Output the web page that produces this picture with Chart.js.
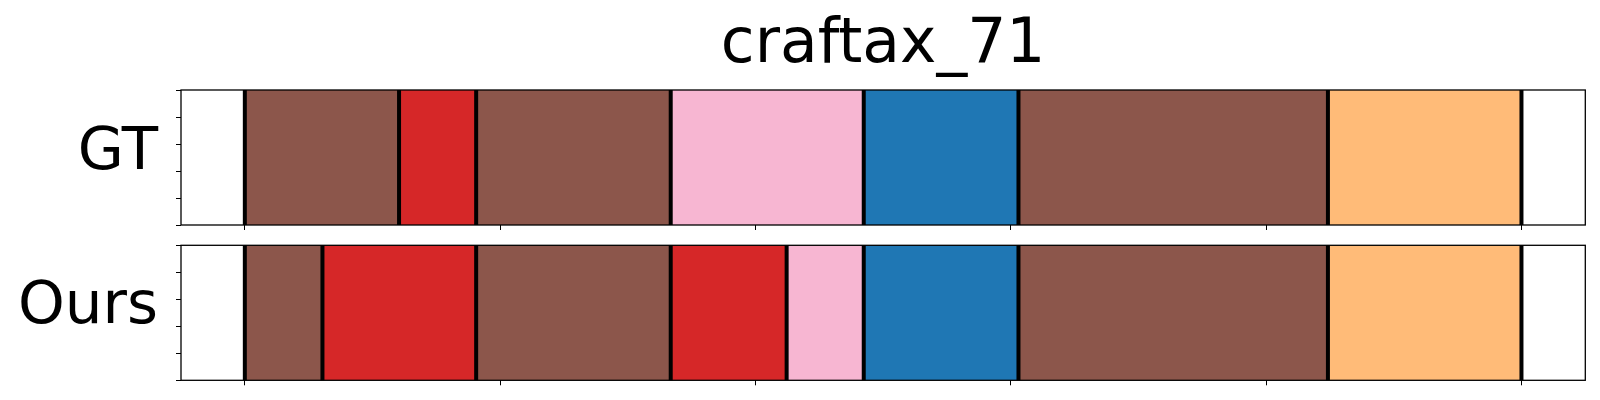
<!DOCTYPE html>
<html>
<head>
<meta charset="utf-8">
<script src="https://cdn.jsdelivr.net/npm/chart.js@4.4.1/dist/chart.umd.min.js"></script>
<style>
  html, body { margin: 0; padding: 0; background: #fff; }
  #wrap { position: relative; width: 1600px; height: 400px; }
  canvas { position: absolute; left: 0; }
  #c1 { top: 0; }
  #c2 { top: 235px; }
</style>
</head>
<body>
<div id="wrap">
  <canvas id="c1" width="1600" height="235"></canvas>
  <canvas id="c2" width="1600" height="165"></canvas>
</div>
<script>
// ---- data ----
const titleText = 'craftax_71';
const rowLabels = ['GT', 'Ours'];
const gtBounds = [0, 30.2, 45.3, 83.4, 121.2, 151.5, 212.1, 250];
const gtClasses = ['brown', 'red', 'brown', 'pink', 'blue', 'brown', 'orange'];
const oursBounds = [0, 15.2, 45.3, 83.4, 106.1, 121.2, 151.5, 212.1, 250];
const oursClasses = ['brown', 'red', 'brown', 'red', 'pink', 'blue', 'brown', 'orange'];
const xTickValues = [0, 50, 100, 150, 200, 250];
const yTickValues = [0, 0.25, 0.5, 0.75, 1];
const xMin = -12.5;
const xMax = 262.5;

// ---- styles ----
const palette = {
  brown: '#8c564b',
  red: '#d62728',
  pink: '#f7b6d2',
  blue: '#1f77b4',
  orange: '#ffbb78'
};
const FONT = 'DejaVu Sans';

const segPlugin = {
  id: 'segLines',
  afterDatasetsDraw(chart, args, opts) {
    const { ctx, chartArea } = chart;
    const xs = chart.scales.x;
    ctx.save();
    ctx.strokeStyle = '#000';
    ctx.lineWidth = opts.width;
    (opts.bounds || []).forEach(b => {
      const px = xs.getPixelForValue(b);
      ctx.beginPath();
      ctx.moveTo(px, chartArea.top);
      ctx.lineTo(px, chartArea.bottom);
      ctx.stroke();
    });
    ctx.restore();
  },
  afterDraw(chart) {
    const { ctx, chartArea } = chart;
    ctx.save();
    ctx.strokeStyle = '#000';
    ctx.lineWidth = 1.3;
    ctx.strokeRect(chartArea.left, chartArea.top, chartArea.right - chartArea.left, chartArea.bottom - chartArea.top);
    ctx.restore();
  }
};

function makePanel(canvasId, label, bounds, classes, withTitle, padding, labelOffset) {
  const segs = classes.map((c, i) => ({ x: [bounds[i], bounds[i + 1]], y: label }));
  return new Chart(document.getElementById(canvasId), {
    type: 'bar',
    data: {
      labels: [label],
      datasets: [{
        data: segs,
        backgroundColor: classes.map(c => palette[c]),
        borderWidth: 0,
        barPercentage: 1,
        categoryPercentage: 1,
        grouped: false
      }]
    },
    plugins: [segPlugin],
    options: {
      indexAxis: 'y',
      responsive: false,
      maintainAspectRatio: false,
      animation: false,
      layout: { padding: padding },
      plugins: {
        legend: { display: false },
        tooltip: { enabled: false },
        title: {
          display: withTitle,
          text: titleText,
          fullSize: false,
          color: '#000',
          font: { family: FONT, size: 61.5, weight: 'normal', lineHeight: 1.2 },
          padding: { top: 9, bottom: 7.2 }
        },
        segLines: { bounds: bounds, width: 4 }
      },
      scales: {
        x: {
          type: 'linear',
          position: 'bottom',
          min: xMin,
          max: xMax,
          afterBuildTicks: s => { s.ticks = xTickValues.map(v => ({ value: v })); },
          ticks: { display: false },
          grid: { display: true, drawOnChartArea: false, drawTicks: true, tickLength: 5, color: '#000', lineWidth: 1 },
          border: { display: false }
        },
        y: {
          type: 'category',
          position: 'left',
          weight: 1,
          offset: true,
          afterFit: s => { s.width = 176; s.paddingTop = 0; s.paddingBottom = 0; },
          ticks: { color: '#000', font: { family: FONT, size: 59.5 }, padding: 18, labelOffset: labelOffset },
          grid: { display: false, drawTicks: false, tickLength: 0 },
          border: { display: false }
        },
        yt: {
          type: 'linear',
          position: 'left',
          weight: 0,
          min: 0,
          max: 1,
          afterBuildTicks: s => { s.ticks = yTickValues.map(v => ({ value: v })); },
          ticks: { display: false },
          grid: { display: true, drawOnChartArea: false, drawTicks: true, tickLength: 5, color: '#000', lineWidth: 1 },
          border: { display: false }
        }
      }
    }
  });
}

makePanel('c1', rowLabels[0], gtBounds, gtClasses, true, { left: 0, right: 14.7, top: 0, bottom: 5 }, -4);
makePanel('c2', rowLabels[1], oursBounds, oursClasses, false, { left: 0, right: 14.7, top: 10.3, bottom: 14.7 }, -5);
</script>
</body>
</html>
